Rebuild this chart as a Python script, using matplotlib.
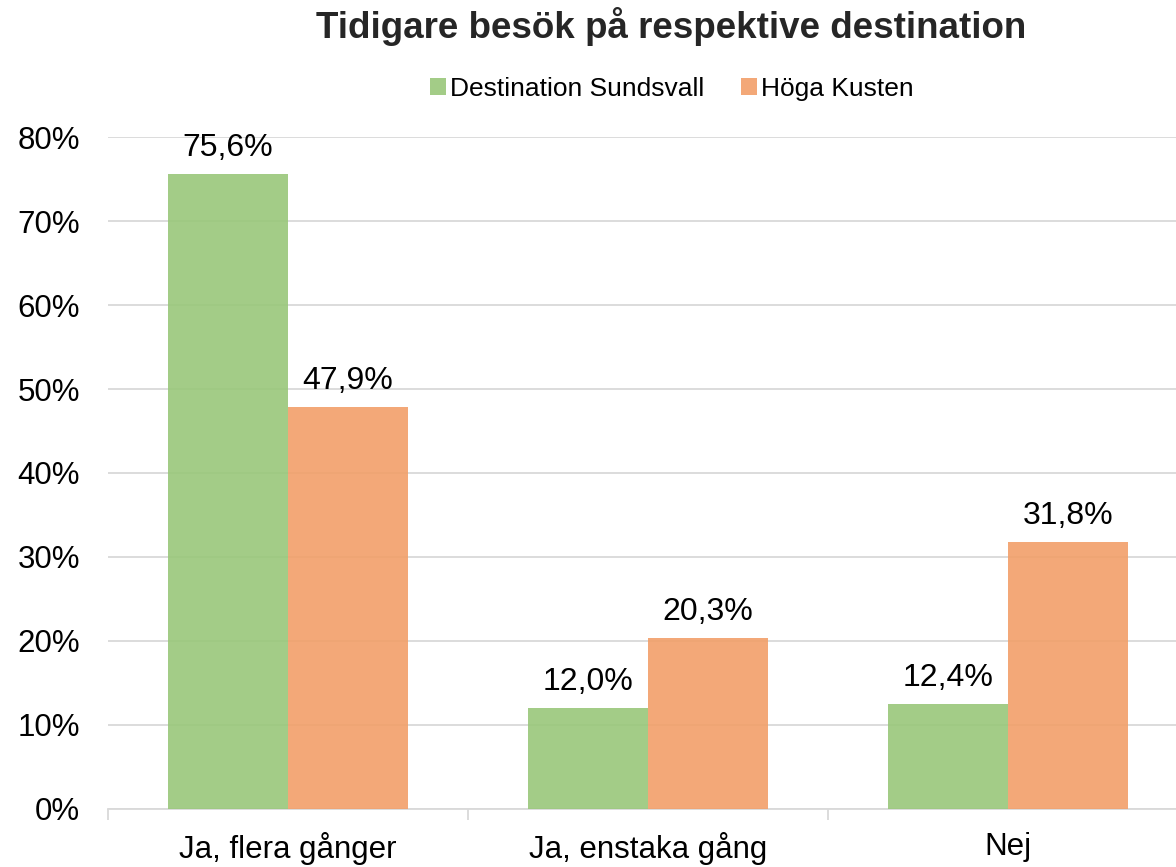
import matplotlib
matplotlib.use("Agg")
import matplotlib.pyplot as plt
import numpy as np
from matplotlib.ticker import FixedLocator, PercentFormatter

plt.rcParams['font.family'] = ['Liberation Sans', 'DejaVu Sans']

title = "Tidigare besök på respektive destination"
categories = ["Ja, flera gånger", "Ja, enstaka gång", "Nej"]
series_names = ["Destination Sundsvall", "Höga Kusten"]
sundsvall = [75.6, 12.0, 12.4]
hoga_kusten = [47.9, 20.3, 31.8]
colors = ["#99C77A", "#F29F69"]

fig = plt.figure(figsize=(11.76, 8.67), dpi=100)
ax = fig.add_axes([108/1176, 1 - 808.5/867, 1080/1176, 671/867])

x = np.arange(len(categories))
w = 120/360
for i, (vals, name, col) in enumerate(zip([sundsvall, hoga_kusten], series_names, colors)):
    xs = x + (i - 0.5) * w
    bars = ax.bar(xs, vals, width=w, color=col, alpha=0.9, label=name, zorder=3, linewidth=0)
    for b, v in zip(bars, vals):
        ax.annotate(f"{v:.1f}".replace(".", ",") + "%", (b.get_x() + b.get_width()/2, v),
                    xytext=(0, 8), textcoords="offset points", ha="center", va="bottom",
                    fontsize=23, color="black", zorder=4)

ax.set_xlim(-0.5, 2.5)
ax.set_ylim(0, 80)
ax.yaxis.set_major_locator(FixedLocator(np.arange(0, 81, 10)))
ax.yaxis.set_major_formatter(PercentFormatter(decimals=0))
ax.grid(axis="y", color="#D9D9D9", linewidth=1.3, zorder=0)
ax.set_axisbelow(True)
for s in ["top", "right", "left"]:
    ax.spines[s].set_visible(False)
ax.spines["bottom"].set_color("#D9D9D9")
ax.spines["bottom"].set_linewidth(1.3)
ax.set_xticks(x)
ax.set_xticklabels(categories)
ax.set_xticks([-0.5, 0.5, 1.5, 2.5], minor=True)
ax.tick_params(axis="x", which="major", length=0, pad=17, labelsize=22.5, labelcolor="black")
ax.tick_params(axis="x", which="minor", length=8, width=1.3, color="#D9D9D9")
ax.tick_params(axis="y", length=0, pad=20, labelsize=22.5, labelcolor="black")

fig.text(671/1176, 1 - 26/867, title, ha="center", va="center", fontsize=26.5, fontweight="bold", color="#262626")
fig.legend(loc="center", bbox_to_anchor=(672/1176, 1 - 89/867), ncol=2, frameon=False,
           fontsize=19, handlelength=0.6, handleheight=0.6, handletextpad=0.15, columnspacing=1.4)

fig.savefig("out.png", dpi=100)
